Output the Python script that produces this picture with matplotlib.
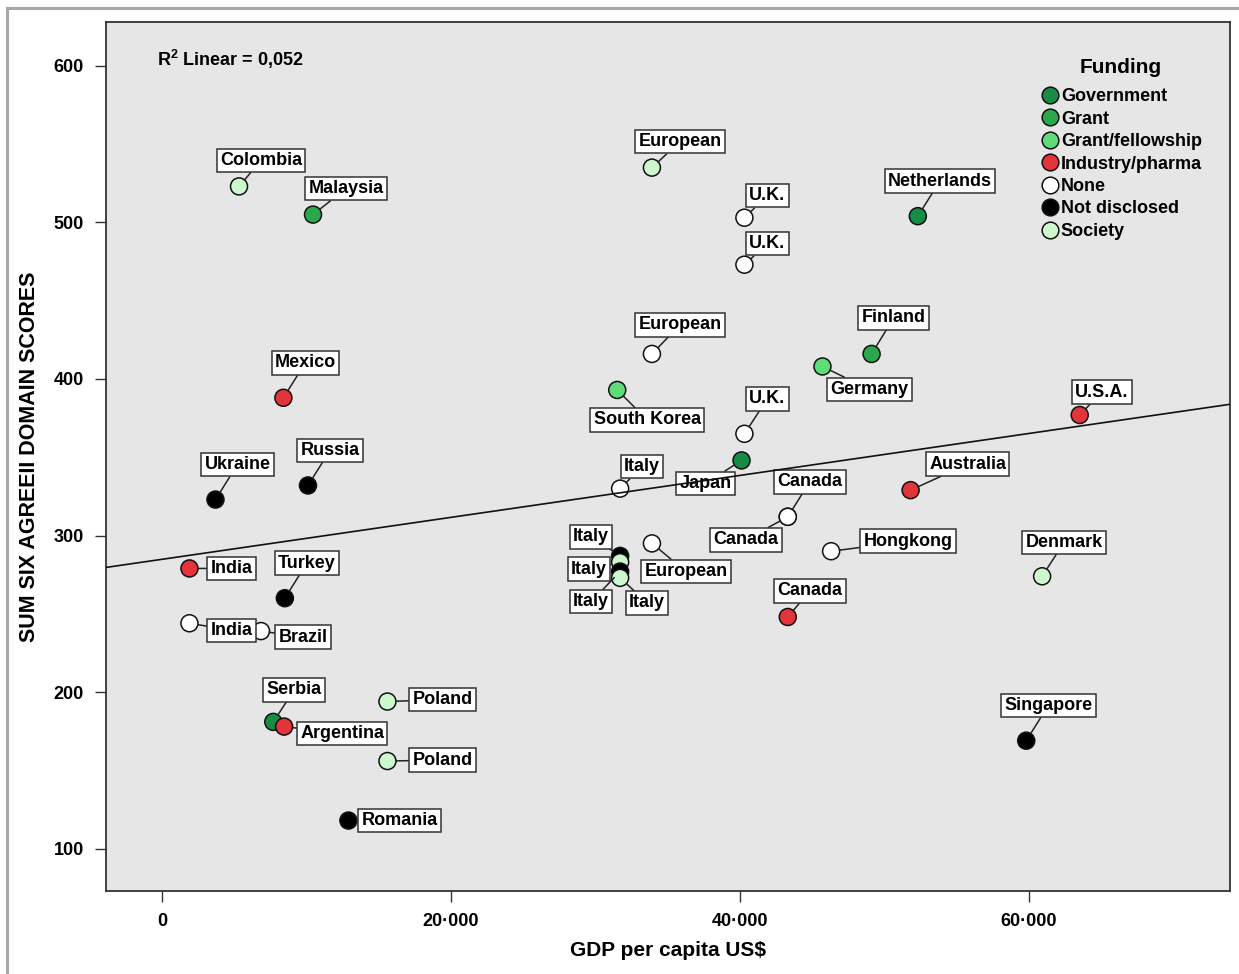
import numpy as np
import matplotlib
matplotlib.use("Agg")
import matplotlib.pyplot as plt
from matplotlib.lines import Line2D
from matplotlib.patches import Rectangle
from matplotlib.ticker import FuncFormatter

plt.rcParams["font.family"] = ["Liberation Sans", "DejaVu Sans"]
plt.rcParams["font.weight"] = "bold"
plt.rcParams["mathtext.fontset"] = "custom"
plt.rcParams["mathtext.rm"] = "Liberation Sans:bold"
plt.rcParams["mathtext.it"] = "Liberation Sans:bold"
plt.rcParams["mathtext.bf"] = "Liberation Sans:bold"

# Studies: country, GDP per capita (US$), summed AGREE II domain scores, funding source
countries = ["Colombia", "Malaysia", "European", "U.K.", "U.K.", "Netherlands",
             "European", "Finland", "Germany", "South Korea", "Mexico", "U.S.A.",
             "U.K.", "Japan", "Ukraine", "Russia", "Italy", "Australia",
             "Canada", "Canada", "European", "Hongkong", "Denmark", "India",
             "Turkey", "Canada", "Italy", "Italy", "Italy", "Italy",
             "India", "Brazil", "Poland", "Serbia", "Argentina", "Poland",
             "Romania", "Singapore"]
gdp = [5330, 10450, 33900, 40300, 40300, 52300,
       33900, 49100, 45700, 31500, 8400, 63500,
       40300, 40100, 3700, 10100, 31700, 51800,
       43300, 43300, 33900, 46300, 60900, 1900,
       8500, 43300, 31700, 31700, 31700, 31700,
       1900, 6850, 15600, 7700, 8450, 15600,
       12900, 59800]
score = [523, 505, 535, 503, 473, 504,
         416, 416, 408, 393, 388, 377,
         365, 348, 323, 332, 330, 329,
         312, 312, 295, 290, 274, 279,
         260, 248, 287, 283, 277, 273,
         244, 239, 194, 181, 178, 156,
         118, 169]
funding = ["Society", "Grant", "Society", "None", "None", "Government",
           "None", "Grant", "Grant/fellowship", "Grant/fellowship", "Industry/pharma", "Industry/pharma",
           "None", "Government", "Not disclosed", "Not disclosed", "None", "Industry/pharma",
           "None", "None", "None", "None", "Society", "Industry/pharma",
           "Not disclosed", "Industry/pharma", "Not disclosed", "Society", "Not disclosed", "Society",
           "None", "None", "Society", "Government", "Industry/pharma", "Society",
           "Not disclosed", "Not disclosed"]

funding_levels = ["Government", "Grant", "Grant/fellowship", "Industry/pharma",
                  "None", "Not disclosed", "Society"]
funding_colors = {"Government": "#178c45", "Grant": "#2aa84c",
                  "Grant/fellowship": "#5edc7a", "Industry/pharma": "#e2343a",
                  "None": "#ffffff", "Not disclosed": "#000000",
                  "Society": "#cdf7cd"}

# Label box offsets from each point, in pixels (x right, y up)
label_offsets = [(22, 26), (33, 26), (28, 26), (23, 22), (23, 21), (22, 35),
                 (28, 29), (22, 36), (47, -23), (30, -30), (22, 35), (22, 23),
                 (23, 35), (-36, -23), (22, 35), (22, 35), (22, 22), (57, 26),
                 (22, 35), (-42, -23), (34, -28), (77, 10), (22, 34), (42, 0),
                 (22, 35), (22, 26), (-29, 19), (-31, -7), (-29, -30), (27, -25),
                 (42, -7), (42, -6), (55, 2), (21, 32), (58, -7), (55, 1),
                 (51, 0), (22, 35)]

fig = plt.figure(figsize=(12.39, 9.74), dpi=100)
fig.patch.set_facecolor("white")
fig.add_artist(Rectangle((7 / 1239, -0.05), 1.1, 1.05 - 8 / 974,
                         transform=fig.transFigure, fill=False,
                         edgecolor="#a8a8a8", linewidth=2.2))

ax = fig.add_axes([106 / 1239, 1 - 891 / 974, 1124 / 1239, 869 / 974])
ax.set_facecolor("#e6e6e6")
ax.set_xlim(-3875, 73900)
ax.set_ylim(73, 628)

for s in ax.spines.values():
    s.set_color("#333333")
    s.set_linewidth(1.3)

ax.set_xticks([0, 20000, 40000, 60000])
ax.set_yticks([100, 200, 300, 400, 500, 600])
ax.xaxis.set_major_formatter(FuncFormatter(
    lambda v, p: "0" if v == 0 else f"{int(v) // 1000}\u00b7{int(v) % 1000:03d}"))
ax.tick_params(axis="both", direction="out", length=8, width=1,
               color="#333333", labelsize=13, pad=8)
for t in ax.get_xticklabels() + ax.get_yticklabels():
    t.set_fontweight("bold")

ax.set_xlabel("GDP per capita US$", fontsize=15, fontweight="bold", labelpad=8)
ax.set_ylabel("SUM SIX AGREEII DOMAIN SCORES", fontsize=15.5, fontweight="bold",
              labelpad=10)

colors = [funding_colors[f] for f in funding]
ax.scatter(gdp, score, s=150, c=colors, edgecolors="#111111", linewidths=1.1,
           zorder=3)

for name, x, y, (dx, dy) in zip(countries, gdp, score, label_offsets):
    ax.annotate(name, xy=(x, y), xytext=(dx, dy), textcoords="offset pixels",
                ha="center", va="center", fontsize=13, fontweight="bold",
                bbox=dict(boxstyle="square,pad=0.18", facecolor="white",
                          edgecolor="#333333", linewidth=1.1),
                arrowprops=dict(arrowstyle="-", color="#222222", lw=1.1,
                                shrinkA=0, shrinkB=6),
                zorder=4)

# Linear fit across the full x range
slope, intercept = np.polyfit(gdp, score, 1)
xs = np.array(ax.get_xlim())
ax.plot(xs, intercept + slope * xs, color="#111111", lw=1.2, zorder=5)

ax.text((157 - 106) / 1124, 1 - (59 - 22) / 869, r"R$^{2}$ Linear = 0,052",
        transform=ax.transAxes, fontsize=13, fontweight="bold",
        ha="left", va="center")

handles = [Line2D([0], [0], marker="o", linestyle="none", markersize=12,
                  markerfacecolor=funding_colors[f], markeredgecolor="#111111",
                  markeredgewidth=1.1, label=f) for f in funding_levels]
leg = ax.legend(handles=handles, title="Funding", loc="upper left",
                bbox_to_anchor=((1032 - 106) / 1124, 1 - (51 - 22) / 869),
                frameon=False, prop={"size": 13, "weight": "bold"},
                handletextpad=0.0, labelspacing=0.30, handlelength=1.2,
                borderaxespad=0)
leg.get_title().set_fontsize(15)
leg.get_title().set_fontweight("bold")
leg._legend_box.sep = 8
leg.set_zorder(6)

fig.savefig("out.png", dpi=100)
